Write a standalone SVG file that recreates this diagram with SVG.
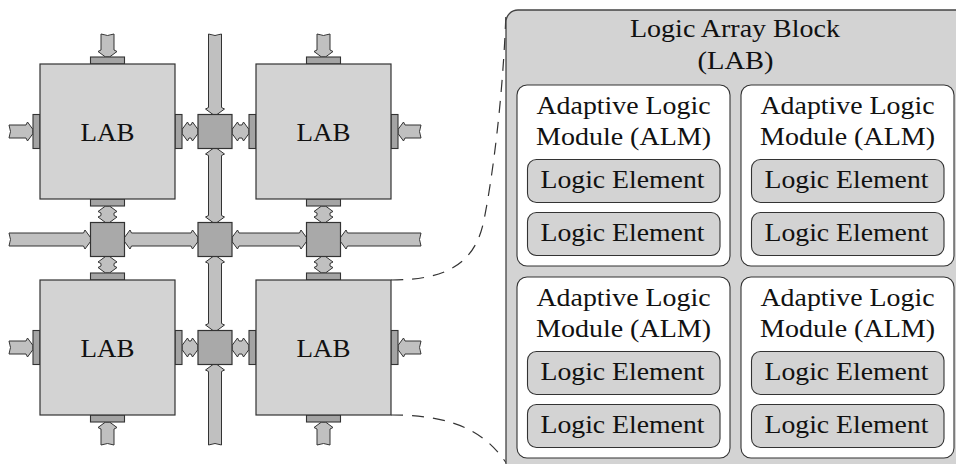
<svg xmlns="http://www.w3.org/2000/svg" width="956" height="464" viewBox="0 0 956 464">
<style>
.lab{fill:#d3d3d3;stroke:#333;stroke-width:1.2}
.pad{fill:#a4a4a4;stroke:#333;stroke-width:1.1}
.sw{fill:#a9a9a9;stroke:#333;stroke-width:1.2}
.ar{fill:#c0c0c0;stroke:#333;stroke-width:1;stroke-linejoin:miter}
.panel{fill:#d3d3d3;stroke:#444;stroke-width:1.3}
.alm{fill:#fff;stroke:#333;stroke-width:1.1}
.le{fill:#d3d3d3;stroke:#333;stroke-width:1.1}
.t{font-family:"Liberation Serif","Times New Roman",serif;font-size:26px;fill:#111;text-anchor:middle}
.dash{fill:none;stroke:#333;stroke-width:1.2;stroke-dasharray:12 9}
</style>
<rect width="956" height="464" fill="#fff"/>

<g id="connectors">
  <!-- single arrows (tip at x=L) -->
  <path class="ar" transform="translate(107.5,34) rotate(90)" d="M0,-6.5 L16,-6.5 L17.5,-9.5 L23,-2 L23,2 L17.5,9.5 L16,6.5 L0,6.5 Q3,0 0,-6.5 Z"/>
  <path class="ar" transform="translate(323.5,34) rotate(90)" d="M0,-6.5 L16,-6.5 L17.5,-9.5 L23,-2 L23,2 L17.5,9.5 L16,6.5 L0,6.5 Q3,0 0,-6.5 Z"/>
  <path class="ar" transform="translate(9,131.5)" d="M0,-6.5 L17,-6.5 L18.5,-9.5 L24,-2 L24,2 L18.5,9.5 L17,6.5 L0,6.5 Q3,0 0,-6.5 Z"/>
  <path class="ar" transform="translate(9,347.5)" d="M0,-6.5 L17,-6.5 L18.5,-9.5 L24,-2 L24,2 L18.5,9.5 L17,6.5 L0,6.5 Q3,0 0,-6.5 Z"/>
  <path class="ar" transform="translate(421,131.5) rotate(180)" d="M0,-6.5 L16,-6.5 L17.5,-9.5 L23,-2 L23,2 L17.5,9.5 L16,6.5 L0,6.5 Q3,0 0,-6.5 Z"/>
  <path class="ar" transform="translate(421,347.5) rotate(180)" d="M0,-6.5 L16,-6.5 L17.5,-9.5 L23,-2 L23,2 L17.5,9.5 L16,6.5 L0,6.5 Q3,0 0,-6.5 Z"/>
  <path class="ar" transform="translate(107.5,445) rotate(-90)" d="M0,-6.5 L16,-6.5 L17.5,-9.5 L23,-2 L23,2 L17.5,9.5 L16,6.5 L0,6.5 Q3,0 0,-6.5 Z"/>
  <path class="ar" transform="translate(323.5,445) rotate(-90)" d="M0,-6.5 L16,-6.5 L17.5,-9.5 L23,-2 L23,2 L17.5,9.5 L16,6.5 L0,6.5 Q3,0 0,-6.5 Z"/>
  <path class="ar" transform="translate(215,34) rotate(90)" d="M0,-6.5 L73.5,-6.5 L75,-9.5 L80.5,-2 L80.5,2 L75,9.5 L73.5,6.5 L0,6.5 Q3,0 0,-6.5 Z"/>
  <path class="ar" transform="translate(215,445) rotate(-90)" d="M0,-6.5 L73.5,-6.5 L75,-9.5 L80.5,-2 L80.5,2 L75,9.5 L73.5,6.5 L0,6.5 Q3,0 0,-6.5 Z"/>
  <path class="ar" transform="translate(9,239.5)" d="M0,-6.5 L74.5,-6.5 L76,-9.5 L81.5,-2 L81.5,2 L76,9.5 L74.5,6.5 L0,6.5 Q3,0 0,-6.5 Z"/>
  <path class="ar" transform="translate(421,239.5) rotate(180)" d="M0,-6.5 L73.5,-6.5 L75,-9.5 L80.5,-2 L80.5,2 L75,9.5 L73.5,6.5 L0,6.5 Q3,0 0,-6.5 Z"/>
  <!-- double arrows -->
  <path class="ar" transform="translate(182,131.5)" d="M0,-2 L5.5,-9.5 L7,-6.5 L9,-6.5 L10.5,-9.5 L16,-2 L16,2 L10.5,9.5 L9,6.5 L7,6.5 L5.5,9.5 L0,2 Z"/>
  <path class="ar" transform="translate(232,131.5)" d="M0,-2 L5.5,-9.5 L7,-6.5 L10,-6.5 L11.5,-9.5 L17,-2 L17,2 L11.5,9.5 L10,6.5 L7,6.5 L5.5,9.5 L0,2 Z"/>
  <path class="ar" transform="translate(182,347.5)" d="M0,-2 L5.5,-9.5 L7,-6.5 L9,-6.5 L10.5,-9.5 L16,-2 L16,2 L10.5,9.5 L9,6.5 L7,6.5 L5.5,9.5 L0,2 Z"/>
  <path class="ar" transform="translate(232,347.5)" d="M0,-2 L5.5,-9.5 L7,-6.5 L10,-6.5 L11.5,-9.5 L17,-2 L17,2 L11.5,9.5 L10,6.5 L7,6.5 L5.5,9.5 L0,2 Z"/>
  <path class="ar" transform="translate(107.5,206) rotate(90)" d="M0,-2 L5.5,-9.5 L7,-6.5 L9.5,-6.5 L11,-9.5 L16.5,-2 L16.5,2 L11,9.5 L9.5,6.5 L7,6.5 L5.5,9.5 L0,2 Z"/>
  <path class="ar" transform="translate(107.5,256.5) rotate(90)" d="M0,-2 L5.5,-9.5 L7,-6.5 L9.5,-6.5 L11,-9.5 L16.5,-2 L16.5,2 L11,9.5 L9.5,6.5 L7,6.5 L5.5,9.5 L0,2 Z"/>
  <path class="ar" transform="translate(323.5,206) rotate(90)" d="M0,-2 L5.5,-9.5 L7,-6.5 L9.5,-6.5 L11,-9.5 L16.5,-2 L16.5,2 L11,9.5 L9.5,6.5 L7,6.5 L5.5,9.5 L0,2 Z"/>
  <path class="ar" transform="translate(323.5,256.5) rotate(90)" d="M0,-2 L5.5,-9.5 L7,-6.5 L9.5,-6.5 L11,-9.5 L16.5,-2 L16.5,2 L11,9.5 L9.5,6.5 L7,6.5 L5.5,9.5 L0,2 Z"/>
  <path class="ar" transform="translate(215,148.5) rotate(90)" d="M0,-2 L5.5,-9.5 L7,-6.5 L67,-6.5 L68.5,-9.5 L74,-2 L74,2 L68.5,9.5 L67,6.5 L7,6.5 L5.5,9.5 L0,2 Z"/>
  <path class="ar" transform="translate(215,256.5) rotate(90)" d="M0,-2 L5.5,-9.5 L7,-6.5 L67,-6.5 L68.5,-9.5 L74,-2 L74,2 L68.5,9.5 L67,6.5 L7,6.5 L5.5,9.5 L0,2 Z"/>
  <path class="ar" transform="translate(124.5,239.5)" d="M0,-2 L5.5,-9.5 L7,-6.5 L66.5,-6.5 L68,-9.5 L73.5,-2 L73.5,2 L68,9.5 L66.5,6.5 L7,6.5 L5.5,9.5 L0,2 Z"/>
  <path class="ar" transform="translate(232,239.5)" d="M0,-2 L5.5,-9.5 L7,-6.5 L67.5,-6.5 L69,-9.5 L74.5,-2 L74.5,2 L69,9.5 L67.5,6.5 L7,6.5 L5.5,9.5 L0,2 Z"/>
  <!-- zoom lines -->
  <path class="dash" d="M391,280 C445,280 475,265 484,220 C492,180 503,100 506,12"/>
  <path class="dash" d="M391,415 C460,415 490,435 512,472"/>
</g>

<g id="switch1"><rect class="sw" x="198" y="114.5" width="34" height="34"/></g>
<g id="switch2"><rect class="sw" x="198" y="330.5" width="34" height="34"/></g>
<g id="switch3"><rect class="sw" x="90.5" y="222.5" width="34" height="34"/></g>
<g id="switch4"><rect class="sw" x="198" y="222.5" width="34" height="34"/></g>
<g id="switch5"><rect class="sw" x="306.5" y="222.5" width="34" height="34"/></g>

<g id="lab1">
  <rect class="pad" x="90.5" y="57" width="34" height="7"/>
  <rect class="pad" x="90.5" y="199" width="34" height="7"/>
  <rect class="pad" x="33" y="114.5" width="7" height="34"/>
  <rect class="pad" x="175" y="114.5" width="7" height="34"/>
  <rect class="lab" x="40" y="64" width="135" height="135"/>
  <text class="t" x="107.5" y="141" textLength="54" lengthAdjust="spacingAndGlyphs">LAB</text>
</g>
<g id="lab2">
  <rect class="pad" x="306.5" y="57" width="34" height="7"/>
  <rect class="pad" x="306.5" y="199" width="34" height="7"/>
  <rect class="pad" x="249" y="114.5" width="7" height="34"/>
  <rect class="pad" x="391" y="114.5" width="7" height="34"/>
  <rect class="lab" x="256" y="64" width="135" height="135"/>
  <text class="t" x="323.5" y="141" textLength="54" lengthAdjust="spacingAndGlyphs">LAB</text>
</g>
<g id="lab3">
  <rect class="pad" x="90.5" y="273" width="34" height="7"/>
  <rect class="pad" x="90.5" y="415" width="34" height="7"/>
  <rect class="pad" x="33" y="330.5" width="7" height="34"/>
  <rect class="pad" x="175" y="330.5" width="7" height="34"/>
  <rect class="lab" x="40" y="280" width="135" height="135"/>
  <text class="t" x="107.5" y="357" textLength="54" lengthAdjust="spacingAndGlyphs">LAB</text>
</g>
<g id="lab4">
  <rect class="pad" x="306.5" y="273" width="34" height="7"/>
  <rect class="pad" x="306.5" y="415" width="34" height="7"/>
  <rect class="pad" x="249" y="330.5" width="7" height="34"/>
  <rect class="pad" x="391" y="330.5" width="7" height="34"/>
  <rect class="lab" x="256" y="280" width="135" height="135"/>
  <text class="t" x="323.5" y="357" textLength="54" lengthAdjust="spacingAndGlyphs">LAB</text>
</g>

<g id="lab-detail">
  <rect class="panel" x="506" y="10" width="520" height="520" rx="12"/>
  <text class="t" x="735" y="37" textLength="210" lengthAdjust="spacingAndGlyphs">Logic Array Block</text>
  <text class="t" x="735.5" y="68.5" textLength="76" lengthAdjust="spacingAndGlyphs">(LAB)</text>
</g>

<g id="alm1">
  <rect class="alm" x="517" y="85" width="213" height="181" rx="10"/>
  <text class="t" x="623.5" y="114.3" textLength="174" lengthAdjust="spacingAndGlyphs">Adaptive Logic</text>
  <text class="t" x="623.5" y="145" textLength="175" lengthAdjust="spacingAndGlyphs">Module (ALM)</text>
  <g id="le1"><rect class="le" x="527.5" y="159.5" width="192.5" height="43" rx="9"/>
  <text class="t" x="622.5" y="188" textLength="164" lengthAdjust="spacingAndGlyphs">Logic Element</text></g>
  <g id="le2"><rect class="le" x="527.5" y="212.5" width="192.5" height="43" rx="9"/>
  <text class="t" x="622.5" y="241" textLength="164" lengthAdjust="spacingAndGlyphs">Logic Element</text></g>
</g>
<g id="alm2">
  <rect class="alm" x="741" y="85" width="213" height="181" rx="10"/>
  <text class="t" x="847.5" y="114.3" textLength="174" lengthAdjust="spacingAndGlyphs">Adaptive Logic</text>
  <text class="t" x="847.5" y="145" textLength="175" lengthAdjust="spacingAndGlyphs">Module (ALM)</text>
  <g id="le3"><rect class="le" x="751.5" y="159.5" width="192.5" height="43" rx="9"/>
  <text class="t" x="846.5" y="188" textLength="164" lengthAdjust="spacingAndGlyphs">Logic Element</text></g>
  <g id="le4"><rect class="le" x="751.5" y="212.5" width="192.5" height="43" rx="9"/>
  <text class="t" x="846.5" y="241" textLength="164" lengthAdjust="spacingAndGlyphs">Logic Element</text></g>
</g>
<g id="alm3">
  <rect class="alm" x="517" y="277" width="213" height="181" rx="10"/>
  <text class="t" x="623.5" y="306" textLength="174" lengthAdjust="spacingAndGlyphs">Adaptive Logic</text>
  <text class="t" x="623.5" y="337" textLength="175" lengthAdjust="spacingAndGlyphs">Module (ALM)</text>
  <g id="le5"><rect class="le" x="527.5" y="351.5" width="192.5" height="43" rx="9"/>
  <text class="t" x="622.5" y="380" textLength="164" lengthAdjust="spacingAndGlyphs">Logic Element</text></g>
  <g id="le6"><rect class="le" x="527.5" y="404.5" width="192.5" height="43" rx="9"/>
  <text class="t" x="622.5" y="433" textLength="164" lengthAdjust="spacingAndGlyphs">Logic Element</text></g>
</g>
<g id="alm4">
  <rect class="alm" x="741" y="277" width="213" height="181" rx="10"/>
  <text class="t" x="847.5" y="306" textLength="174" lengthAdjust="spacingAndGlyphs">Adaptive Logic</text>
  <text class="t" x="847.5" y="337" textLength="175" lengthAdjust="spacingAndGlyphs">Module (ALM)</text>
  <g id="le7"><rect class="le" x="751.5" y="351.5" width="192.5" height="43" rx="9"/>
  <text class="t" x="846.5" y="380" textLength="164" lengthAdjust="spacingAndGlyphs">Logic Element</text></g>
  <g id="le8"><rect class="le" x="751.5" y="404.5" width="192.5" height="43" rx="9"/>
  <text class="t" x="846.5" y="433" textLength="164" lengthAdjust="spacingAndGlyphs">Logic Element</text></g>
</g>
</svg>
